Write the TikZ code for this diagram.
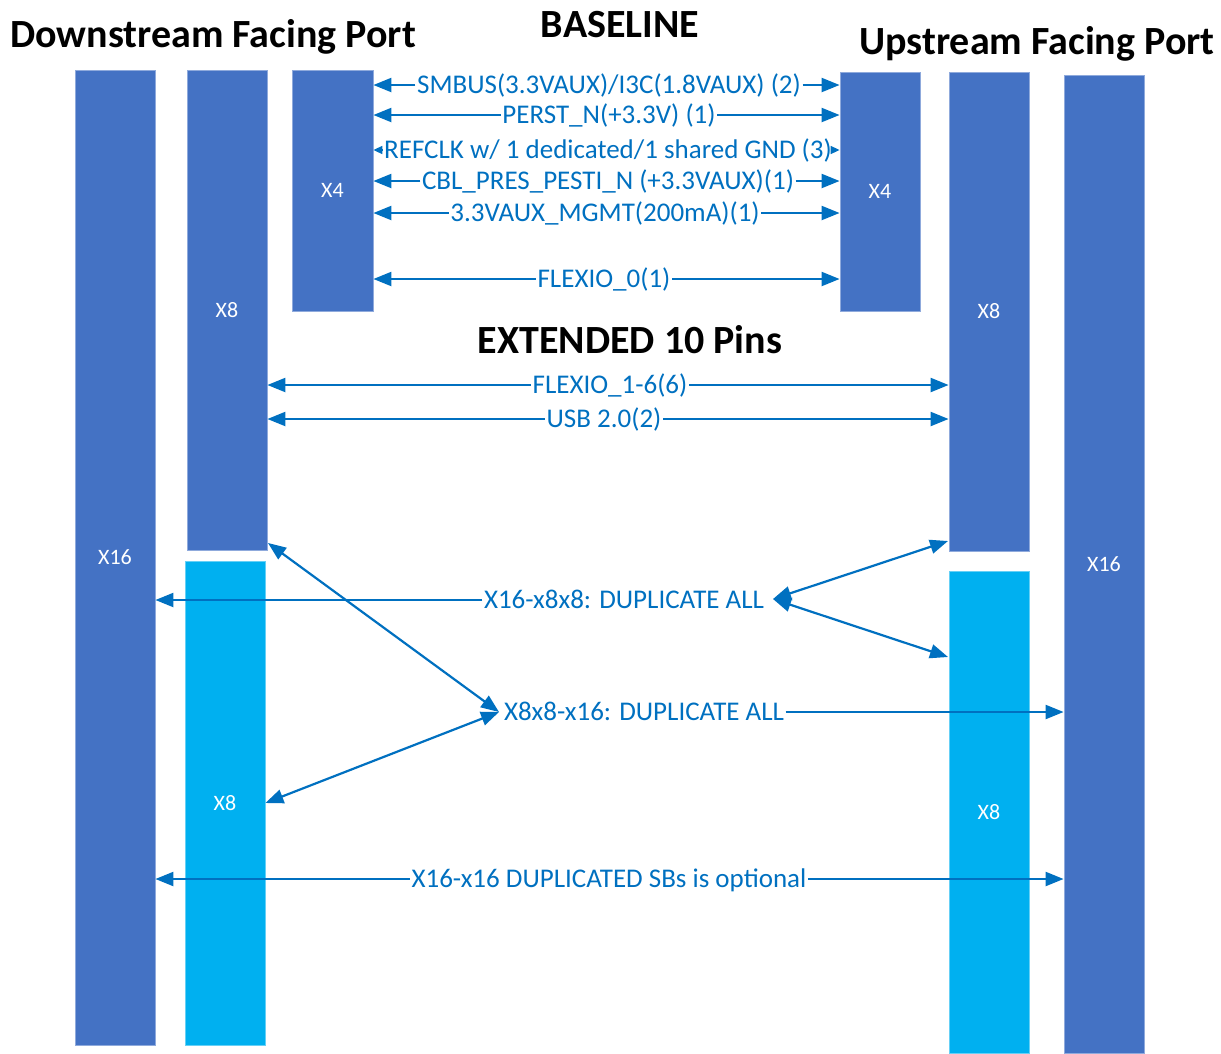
\documentclass[tikz,border=0pt]{standalone}
\usepackage{fontspec}
\setmainfont{Carlito}
\usetikzlibrary{arrows.meta}
\definecolor{portdark}{HTML}{4472C4}
\definecolor{portlight}{HTML}{00B0F0}
\definecolor{sigblue}{HTML}{0070C0}
\tikzset{
  lane/.style={fill=portdark, draw=portdark!60!white, line width=0.8pt, text=white,
    font=\fontsize{22}{25}\selectfont, inner sep=0pt},
  lanelt/.style={lane, fill=portlight, draw=portlight!60!white},
  title/.style={font=\fontsize{40}{44}\selectfont\bfseries, text=black, inner sep=0pt},
  sig/.style={font=\fontsize{27}{31}\selectfont, text=sigblue, inner sep=1.5pt,
    text height=20pt, text depth=4pt},
  wire/.style={draw=sigblue, line width=2.2pt, -{Triangle[length=18pt,width=14pt]}},
  wire2/.style={draw=sigblue, line width=2.2pt, {Triangle[length=18pt,width=14pt]}-{Triangle[length=18pt,width=14pt]}},
  wiresm/.style={draw=sigblue, line width=1.6pt, -{Triangle[length=9pt,width=8pt]}},
}
\begin{document}
\begin{tikzpicture}[x=1pt,y=-1pt]
\useasboundingbox (0,0) rectangle (1221,1053);

% titles
\node[title] (tdfp) at (213,37) {Downstream Facing Port};
\node[title] (tbase) at (620,25) {BASELINE};
\node[title] (tufp) at (1037,44) {Upstream Facing Port};
\node[title] (text10) at (630,340) {EXTENDED 10 Pins};

% downstream facing port lanes
\node[lane, minimum width=80pt, minimum height=975pt] (dx16) at (115,557.5) {X16};
\node[lane, minimum width=80pt, minimum height=480pt] (dx8a) at (227,310) {X8};
\node[lanelt, minimum width=80pt, minimum height=484pt] (dx8b) at (225,803) {X8};
\node[lane, minimum width=81pt, minimum height=241pt] (dx4) at (332.5,190.5) {X4};

% upstream facing port lanes
\node[lane, minimum width=80pt, minimum height=239pt] (ux4) at (880,191.5) {X4};
\node[lane, minimum width=80pt, minimum height=479pt] (ux8a) at (989,311.5) {X8};
\node[lanelt, minimum width=80pt, minimum height=482pt] (ux8b) at (989,812) {X8};
\node[lane, minimum width=80pt, minimum height=978pt] (ux16) at (1104,564) {X16};

% baseline signals
\node[sig] (smbus) at (609,85) {SMBUS(3.3VAUX)/I3C(1.8VAUX) (2)};
\node[sig] (perst) at (609,115) {PERST\_N(+3.3V) (1)};
\node[sig] (refclk) at (608,150) {REFCLK w/ 1 dedicated/1 shared GND (3)};
\node[sig] (cbl) at (608,181) {CBL\_PRES\_PESTI\_N (+3.3VAUX)(1)};
\node[sig] (mgmt) at (605,213) {3.3VAUX\_MGMT(200mA)(1)};
\node[sig] (flex0) at (604,279) {FLEXIO\_0(1)};

\foreach \s in {smbus,perst,cbl,mgmt,flex0}{
  \draw[wire] (\s.west) -- (dx4.east |- \s.west);
  \draw[wire] (\s.east) -- (ux4.west |- \s.east);
}
\draw[wiresm] (refclk.west) -- (dx4.east |- refclk.west);
\draw[wiresm] (refclk.east) -- (ux4.west |- refclk.east);

% extended signals
\node[sig] (flex16) at (610,385) {FLEXIO\_1-6(6)};
\node[sig] (usb) at (604,419) {USB 2.0(2)};
\foreach \s in {flex16,usb}{
  \draw[wire] (\s.west) -- (dx8a.east |- \s.west);
  \draw[wire] (\s.east) -- (ux8a.west |- \s.east);
}

% duplication modes
\node[sig] (dupa) at (624,600) {X16-x8x8: DUPLICATE ALL};
\node[sig] (dupb) at (644,712) {X8x8-x16: DUPLICATE ALL};
\node[sig] (dupc) at (609,879) {X16-x16 DUPLICATED SBs is optional};

\coordinate (hubA) at (773,599);
\coordinate (hubB) at (499,712);
\coordinate (dcorner) at (268,543);
\coordinate (ucornerA) at (948,541);
\coordinate (ucornerB) at (948,657);

\draw[wire] (dupa.west) -- (dx16.east |- dupa.west);
\draw[wire2] (hubA) -- (ucornerA);
\draw[wire2] (hubA) -- (ucornerB);

\draw[wire2] (dcorner) -- (hubB);
\draw[wire2] (dx8b.east) -- (hubB);
\draw[wire] (dupb.east) -- (ux16.west |- dupb.east);

\draw[wire] (dupc.west) -- (dx16.east |- dupc.west);
\draw[wire] (dupc.east) -- (ux16.west |- dupc.east);
\end{tikzpicture}
\end{document}
